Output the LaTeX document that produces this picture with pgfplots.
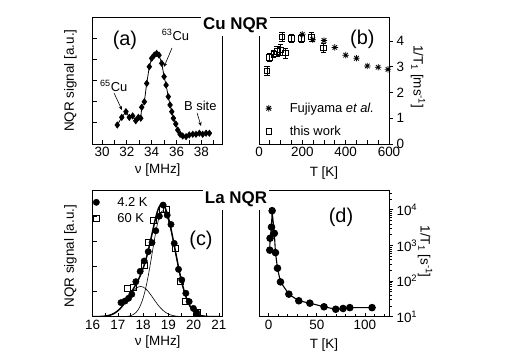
\documentclass[border=0pt]{standalone}
\usepackage{fontspec}
\setmainfont{Liberation Sans}
\usepackage{pgfplots}
\pgfplotsset{compat=1.18}
\usetikzlibrary{arrows.meta}

% eight-armed star for the Fujiyama points
\pgfdeclareplotmark{ast8}{%
  \pgfpathmoveto{\pgfqpoint{-\pgfplotmarksize}{0pt}}\pgfpathlineto{\pgfqpoint{\pgfplotmarksize}{0pt}}%
  \pgfpathmoveto{\pgfqpoint{0pt}{-\pgfplotmarksize}}\pgfpathlineto{\pgfqpoint{0pt}{\pgfplotmarksize}}%
  \pgfpathmoveto{\pgfqpoint{-.707\pgfplotmarksize}{-.707\pgfplotmarksize}}\pgfpathlineto{\pgfqpoint{.707\pgfplotmarksize}{.707\pgfplotmarksize}}%
  \pgfpathmoveto{\pgfqpoint{-.707\pgfplotmarksize}{.707\pgfplotmarksize}}\pgfpathlineto{\pgfqpoint{.707\pgfplotmarksize}{-.707\pgfplotmarksize}}%
  \pgfusepathqstroke}

\newcommand\lab{\fontsize{13.5}{15}\selectfont}
\pgfplotsset{
  panel/.style={
    scale only axis, width=130bp, anchor=north west,
    axis line style={line width=0.9bp},
    tick style={line width=0.8bp, black},
    major tick length=4bp, minor tick length=4bp,
    /pgf/number format/assume math mode=true,
    tick label style={font=\lab},
    label style={font=\lab},
    scaled ticks=false,
    xtick pos=left, xtick align=inside,
  },
  legimg/.style={legend image code/.code={%
    \path[draw=none] (0bp,0bp) -- (27bp,0bp);
    \draw[##1] plot[only marks] coordinates {(8bp,0bp)};}},
}

\begin{document}
\begin{tikzpicture}
\useasboundingbox (0,0) rectangle (518bp,-361bp);

% ---------------- (a) Cu spectrum
\begin{axis}[panel, at={(92.7bp,-17.3bp)}, height=126.7bp,
  xmin=29.25, xmax=39.72, ymin=0, ymax=6,
  xtick={30,32,...,38}, minor xtick={30,31,...,39},
  ytick={1,2,3,4,5}, yticklabels={}, ytick pos=left, ytick align=inside,
  xlabel={ν [MHz]}, ylabel={NQR signal [a.u.]},
  xlabel style={at={(axis description cs:0.5,-0.207)}, anchor=center},
  ylabel style={at={(axis description cs:-0.171,0.5)}, anchor=center}]
\addplot[black, line width=0.8bp, mark=diamond*, mark size=3bp] coordinates {
 (31.23,0.90)(31.59,1.26)(31.93,1.53)(32.20,1.26)(32.47,1.33)(32.72,1.10)
 (32.93,1.26)(33.12,1.22)(33.20,1.74)(33.41,2.00)(33.60,2.87)(33.81,3.66)
 (34.00,4.06)(34.21,4.21)(34.40,4.29)(34.59,4.21)(34.81,3.82)(35.00,3.19)
 (35.16,2.79)(35.34,2.24)(35.48,1.85)(35.62,1.53)(35.75,1.22)(35.94,0.95)
 (36.10,0.66)(36.29,0.46)(36.50,0.38)(36.77,0.35)(37.03,0.43)(37.31,0.46)
 (37.57,0.46)(37.84,0.51)(38.11,0.46)(38.38,0.51)(38.65,0.51)};
\node at (rel axis cs:0.248,0.821) {\fontsize{20}{22}\selectfont(a)};
\node[font=\fontsize{13}{15}\selectfont] at (rel axis cs:0.637,0.86) {\textsuperscript{63}Cu};
\node[font=\fontsize{13}{15}\selectfont] at (rel axis cs:0.162,0.458) {\textsuperscript{65}Cu};
\node[font=\fontsize{13}{15}\selectfont] at (rel axis cs:0.828,0.30) {B site};
\draw[-{Stealth[length=4bp,width=3.5bp]}, line width=0.6bp] (rel axis cs:0.61,0.758) -- (rel axis cs:0.548,0.608);
\draw[-{Stealth[length=4bp,width=3.5bp]}, line width=0.6bp] (rel axis cs:0.164,0.403) -- (rel axis cs:0.225,0.268);
\draw[-{Stealth[length=4bp,width=3.5bp]}, line width=0.6bp] (rel axis cs:0.803,0.245) -- (rel axis cs:0.833,0.142);
\end{axis}

% ---------------- (b) Cu 1/T1
\begin{axis}[panel, legimg, at={(259bp,-17.3bp)}, height=126.7bp,
  xmin=0, xmax=600, ymin=0, ymax=4.92,
  xtick={0,200,400,600}, minor xtick={50,100,...,550},
  ytick={0,1,2,3,4}, ytick pos=right, yticklabel pos=right, ytick align=outside,
  xlabel={T [K]}, ylabel={1/T\textsubscript{1} [ms\textsuperscript{-1}]},
  xlabel style={at={(axis description cs:0.5,-0.23)}, anchor=center},
  ylabel style={at={(axis description cs:1.223,0.53)}, anchor=center, rotate=180},
  legend cell align=left,
  legend style={at={(rel axis cs:0.012,0.342)}, anchor=north west, draw=none, fill=none,
    inner sep=0pt, row sep=8bp, font=\fontsize{13}{15}\selectfont}]
\addplot[black, only marks, mark=ast8, mark size=3.2bp, line width=0.8bp] coordinates {
 (200,4.26)(248,4.05)(300,4.02)(350,3.75)(400,3.45)(450,3.33)(500,3.03)(550,2.98)(595,2.90)};
\addplot[black, only marks, mark=square, mark size=2.7bp, line width=0.7bp,
  error bars/.cd, y dir=both, y explicit,
  error bar style={line width=0.7bp}, error mark options={rotate=90, mark size=2.7bp, line width=0.7bp}]
 coordinates {
 (37,2.84) +- (0,0.18) (48,3.37) +- (0,0.15) (68,3.50) +- (0,0.15) (83,3.60) +- (0,0.18)
 (98,3.66) +- (0,0.20) (121,3.53) +- (0,0.20) (106,4.15) +- (0,0.18) (149,4.10) +- (0,0.15)
 (195,4.10) +- (0,0.15) (241,4.15) +- (0,0.18) (297,3.74) +- (0,0.18)};
\legend{Fujiyama \textit{et al.}, this work}
\node at (rel axis cs:0.795,0.826) {\fontsize{20}{22}\selectfont(b)};
\end{axis}

% ---------------- (c) La spectrum
\begin{axis}[panel, legimg, at={(92.7bp,-190.7bp)}, height=126bp,
  xmin=16, xmax=21.15, ymin=0, ymax=5,
  xtick={16,...,21}, minor xtick={16.5,17.5,...,20.5},
  ytick={1,2,3,4}, yticklabels={}, ytick pos=left, ytick align=inside,
  xlabel={ν [MHz]}, ylabel={NQR signal [a.u.]},
  xlabel style={at={(axis description cs:0.5,-0.198)}, anchor=center},
  ylabel style={at={(axis description cs:-0.171,0.48)}, anchor=center},
  legend cell align=left,
  legend style={at={(rel axis cs:-0.035,0.967)}, anchor=north west, draw=none, fill=none,
    inner sep=0pt, row sep=1.5bp, font=\fontsize{13}{15}\selectfont}]
\addplot[black, only marks, mark=*, mark size=3.2bp] coordinates {
 (17.12,0.56)(17.28,0.62)(17.42,0.73)(17.55,0.89)(17.71,1.39)(17.88,1.80)
 (18.04,2.21)(18.20,2.58)(18.35,2.94)(18.50,3.41)(18.64,3.99)(18.79,4.43)
 (18.95,4.03)(19.10,3.66)(19.23,2.91)(19.40,1.88)(19.53,1.46)(19.69,0.93)
 (19.82,0.60)(19.99,0.33)(20.12,0.16)};
\addplot[black, only marks, mark=square, mark size=3bp, line width=0.6bp] coordinates {
 (17.36,1.12)(17.59,1.16)(18.05,2.02)(18.21,2.95)(18.41,3.81)(18.75,4.26)
 (18.91,4.26)(19.27,2.71)(19.48,1.39)(19.66,0.63)(20.13,0.16)};
\legend{4.2 K, 60 K}
% fit: sum of the two lines
\addplot[black, line width=1.5bp, smooth, forget plot] coordinates {
 (16.0,0.001)(16.2,0.004)(16.4,0.013)(16.5,0.024)(16.6,0.041)(16.7,0.067)(16.8,0.107)
 (16.9,0.162)(17.0,0.238)(17.1,0.335)(17.2,0.454)(17.3,0.593)(17.4,0.747)(17.5,0.912)
 (17.6,1.083)(17.7,1.262)(17.8,1.452)(17.9,1.668)(18.0,1.925)(18.1,2.240)(18.2,2.621)
 (18.3,3.057)(18.4,3.517)(18.5,3.947)(18.6,4.282)(18.7,4.458)(18.8,4.435)(18.9,4.243)
 (19.0,3.919)(19.1,3.489)(19.2,2.992)(19.3,2.470)(19.4,1.960)(19.5,1.496)(19.6,1.098)
 (19.7,0.775)(19.8,0.525)(19.9,0.342)(20.0,0.214)(20.1,0.129)(20.2,0.075)(20.3,0.041)
 (20.4,0.022)(20.5,0.011)(20.6,0.006)(20.8,0.001)(21.0,0.000)};
\addplot[black, line width=0.6bp, smooth, forget plot] coordinates {
 (16.0,0.001)(16.2,0.004)(16.4,0.013)(16.5,0.024)(16.6,0.041)(16.7,0.067)(16.8,0.107)
 (16.9,0.162)(17.0,0.238)(17.1,0.334)(17.2,0.450)(17.3,0.584)(17.4,0.728)(17.5,0.871)
 (17.6,1.002)(17.7,1.108)(17.8,1.176)(17.9,1.200)(18.0,1.176)(18.1,1.108)(18.2,1.002)
 (18.3,0.871)(18.4,0.728)(18.5,0.584)(18.6,0.450)(18.7,0.334)(18.8,0.238)(18.9,0.162)
 (19.0,0.107)(19.1,0.067)(19.2,0.041)(19.3,0.024)(19.4,0.013)(19.5,0.007)(19.6,0.004)
 (19.8,0.001)(20.0,0.000)};
\addplot[black, line width=0.6bp, smooth, forget plot] coordinates {
 (16.8,0.000)(17.0,0.001)(17.2,0.004)(17.3,0.008)(17.4,0.019)(17.5,0.040)(17.6,0.081)
 (17.7,0.154)(17.8,0.276)(17.9,0.468)(18.0,0.749)(18.1,1.132)(18.2,1.619)(18.3,2.186)
 (18.4,2.789)(18.5,3.363)(18.6,3.832)(18.7,4.124)(18.78,4.200)(18.9,4.081)(19.0,3.812)
 (19.1,3.422)(19.2,2.951)(19.3,2.446)(19.4,1.947)(19.5,1.489)(19.6,1.094)(19.7,0.773)
 (19.8,0.524)(19.9,0.342)(20.0,0.214)(20.1,0.129)(20.2,0.075)(20.3,0.041)(20.4,0.022)
 (20.5,0.011)(20.6,0.006)(20.8,0.001)(21.0,0.000)};
\node at (rel axis cs:0.833,0.609) {\fontsize{20}{22}\selectfont(c)};
\end{axis}

% ---------------- (d) La 1/T1
\begin{axis}[panel, at={(259bp,-190.7bp)}, height=126bp, ymode=log,
  xmin=-10, xmax=125, ymin=10, ymax=34600,
  xtick={0,50,100}, minor xtick={10,20,30,40,60,70,80,90,110,120},
  ytick={10,100,1000,10000},
  yticklabels={10\textsuperscript{1},10\textsuperscript{2},10\textsuperscript{3},10\textsuperscript{4}},
  minor ytick={20,30,40,50,60,70,80,90,200,300,400,500,600,700,800,900,
    2000,3000,4000,5000,6000,7000,8000,9000,20000,30000},
  minor tick length=2.5bp,
  ytick pos=right, yticklabel pos=right, ytick align=outside,
  xlabel={T [K]}, ylabel={1/T\textsubscript{1} [s\textsuperscript{-1}]},
  xlabel style={at={(axis description cs:0.5,-0.225)}, anchor=center},
  ylabel style={at={(axis description cs:1.277,0.516)}, anchor=center, rotate=180}]
\addplot[black, line width=1.1bp, mark=*, mark size=3.2bp] coordinates {
 (1.2,740)(1.5,1600)(3.0,3300)(3.6,9500)(5.9,2200)(7.1,630)(9.2,230)(12.3,95)
 (21.0,43)(31.3,28)(42.8,24)(57.5,19)(69.7,16.2)(77.3,17)(84.3,18)(107.4,18)};
\node at (rel axis cs:0.631,0.786) {\fontsize{20}{22}\selectfont(d)};
\end{axis}

\node[fill=white, inner xsep=2bp, inner ysep=3bp, font=\fontsize{17}{19}\selectfont\bfseries] at (235.5bp,-25bp) {Cu NQR};
\node[fill=white, inner xsep=2bp, inner ysep=3bp, font=\fontsize{17}{19}\selectfont\bfseries] at (236bp,-199.5bp) {La NQR};
\end{tikzpicture}
\end{document}
